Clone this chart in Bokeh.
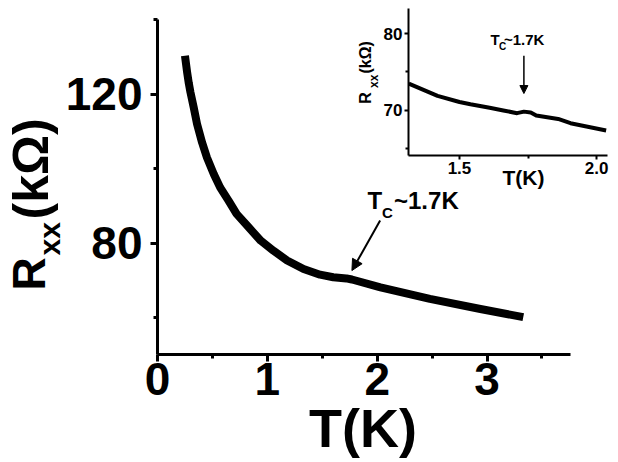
import math
from bokeh.plotting import figure
from bokeh.models import Range1d, FixedTicker, Label, Arrow, NormalHead, PrintfTickFormatter
from bokeh.embed import file_html
from bokeh.resources import INLINE

# ---- data ----
main_T = [0.25, 0.27, 0.285, 0.30, 0.33, 0.36, 0.406, 0.45, 0.512, 0.57, 0.648, 0.72, 0.83,
          0.94, 1.057, 1.18, 1.33, 1.48, 1.60, 1.72, 1.77, 2.03, 2.48, 2.94, 3.33]
main_R = [130.3, 125.8, 122.9, 120.5, 116.4, 112.0, 107.0, 103.0, 98.6, 95.0, 91.4, 87.9, 84.3,
          80.7, 78.0, 75.4, 73.1, 71.6, 70.9, 70.6, 70.3, 68.2, 65.1, 62.4, 60.2]

inset_T = [1.315, 1.42, 1.50, 1.54, 1.61, 1.66, 1.71, 1.735, 1.76, 1.78, 1.86, 1.905, 2.035]
inset_R = [73.5, 71.9, 71.1, 70.8, 70.35, 70.0, 69.65, 69.85, 69.75, 69.35, 68.9, 68.35, 67.4]

main_x_major = [0, 1, 2, 3]
main_x_minor = [0.5, 1.5, 2.5, 3.5]
main_y_major = [80, 120]
main_y_minor = [60, 100, 140]
inset_x_major = [1.5, 2.0]
inset_x_minor = [1.25, 1.75]
inset_y_major = [70, 80]
inset_y_minor = [65, 75]

FONT = "Liberation Sans"
W, H = 616, 460


def style_axis(ax, label_size, standoff, tick_out, minor_out, width):
    ax.axis_line_width = width
    ax.axis_line_color = "black"
    ax.major_tick_line_width = width
    ax.minor_tick_line_width = width
    ax.major_tick_out = tick_out
    ax.major_tick_in = 0
    ax.minor_tick_out = minor_out
    ax.minor_tick_in = 0
    ax.major_label_text_font = FONT
    ax.major_label_text_font_style = "bold"
    ax.major_label_text_font_size = label_size
    ax.major_label_text_color = "black"
    ax.major_label_standoff = standoff


def lab(fig, x, y, text, size, angle=0.0, align="left"):
    fig.add_layout(Label(x=x, y=y, text=text, angle=angle,
                         text_font=FONT, text_font_style="bold", text_font_size=size,
                         text_color="black", text_align=align, text_baseline="alphabetic"))


# ---- main plot ----
p = figure(width=W, height=H, output_backend="svg", toolbar_location=None,
           x_range=Range1d(0, 3.76), y_range=Range1d(50.2, 140),
           min_border_left=157, min_border_right=W - 570, min_border_top=19,
           min_border_bottom=H - 354)
p.outline_line_color = None
p.grid.visible = False
p.background_fill_color = "white"
p.border_fill_color = "white"

p.line(main_T, main_R, line_width=8, color="black", line_join="round")

p.xaxis.ticker = FixedTicker(ticks=main_x_major, minor_ticks=main_x_minor)
p.yaxis.ticker = FixedTicker(ticks=main_y_major, minor_ticks=main_y_minor)
style_axis(p.xaxis[0], "46px", 1, 7, 4, 3)
style_axis(p.yaxis[0], "46px", 8, 7, 4, 3)

p.add_layout(Arrow(end=NormalHead(size=11, fill_color="black", line_color="black"),
                   x_start=2.027, y_start=86.1, x_end=1.77, y_end=72.7,
                   line_width=2, line_color="black"))

# ---- inset (overlaid at page position) ----
IL, IT, IW, IH = 344, 0, 266, 187
ins = figure(width=IW, height=IH, output_backend="svg", toolbar_location=None,
             x_range=Range1d(1.314, 2.04), y_range=Range1d(64.15, 83.25),
             min_border_left=408 - IL, min_border_right=IL + IW - 607, min_border_top=8,
             min_border_bottom=IH - 155,
             styles={"position": "absolute", "left": f"{IL}px", "top": f"{IT}px"})
ins.outline_line_color = None
ins.grid.visible = False
ins.background_fill_color = None
ins.border_fill_color = None

ins.line(inset_T, inset_R, line_width=4, color="black", line_join="round")
ins.xaxis.ticker = FixedTicker(ticks=inset_x_major, minor_ticks=inset_x_minor)
ins.yaxis.ticker = FixedTicker(ticks=inset_y_major, minor_ticks=inset_y_minor)
ins.xaxis.formatter = PrintfTickFormatter(format="%.1f")
style_axis(ins.xaxis[0], "17px", 2, 4, 3, 2)
style_axis(ins.yaxis[0], "17px", 2, 4, 3, 2)

ins.add_layout(Arrow(end=NormalHead(size=8, fill_color="black", line_color="black"),
                     x_start=1.735, y_start=77.1, x_end=1.735, y_end=72.2,
                     line_width=1.5, line_color="black"))

# ---- text layer (axis titles and annotations, in page pixels) ----
TW, TH = 618, 462
txt = figure(width=TW, height=TH, output_backend="svg", toolbar_location=None,
             x_range=Range1d(0, TW), y_range=Range1d(TH, 0),
             x_axis_type=None, y_axis_type=None, min_border=0,
             styles={"position": "absolute", "left": "0px", "top": "0px"})
txt.outline_line_color = None
txt.background_fill_color = None
txt.border_fill_color = None

# main axis titles
lab(txt, 28, 290, "R", "46px", angle=math.pi / 2)
lab(txt, 49, 255, "xx", "30px", angle=math.pi / 2)
lab(txt, 30, 219, "(kΩ)", "50px", angle=math.pi / 2)
lab(txt, 362.5, 427, "T(K)", "54px", align="center")
# main annotation
lab(txt, 367, 199.5, "T", "24px")
lab(txt, 381.5, 211.5, "C", "15px")
lab(txt, 393.5, 199.5, "~1.7K", "24px")
# inset axis titles
lab(txt, 364.7, 103.3, "R", "16px", angle=math.pi / 2)
lab(txt, 373.3, 87.5, "xx", "12px", angle=math.pi / 2)
lab(txt, 364.7, 73, "(kΩ)", "16px", angle=math.pi / 2)
lab(txt, 523, 177, "T(K)", "21px", align="center")
# inset annotation
lab(txt, 490, 39, "T", "15px")
lab(txt, 498.5, 46, "C", "10px")
lab(txt, 503.5, 39, "~1.7K", "15px")

open("out.html", "w").write(file_html([p, ins, txt], INLINE))
